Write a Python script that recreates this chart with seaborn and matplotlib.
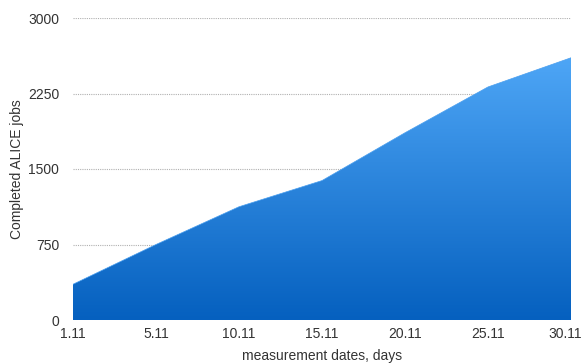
import numpy as np
import matplotlib
matplotlib.use("Agg")
import matplotlib.pyplot as plt
import matplotlib.transforms as mtransforms
import seaborn as sns
import pandas as pd
from matplotlib.colors import LinearSegmentedColormap

dates = ["1.11", "5.11", "10.11", "15.11", "20.11", "25.11", "30.11"]
jobs = [355, 750, 1125, 1385, 1860, 2315, 2605]
yticks = [0, 750, 1500, 2250, 3000]

sns.set_style("white")
plt.rcParams['font.family'] = ['Liberation Sans', 'DejaVu Sans']

df = pd.DataFrame({"date": dates, "jobs": jobs})
df["pos"] = np.arange(len(dates))

fig = plt.figure(figsize=(5.85, 3.63), dpi=100)
ax = fig.add_axes([73/585, 1 - 320/363, (571 - 73)/585, (320 - 18)/363])

sns.lineplot(data=df, x="pos", y="jobs", ax=ax, color="#4a9fef", linewidth=0.5, zorder=3)

poly = ax.fill_between(df["pos"], 0, df["jobs"], color="none", zorder=2)
cmap = LinearSegmentedColormap.from_list("g", ["#0560bf", "#4ea6f6"])
grad = np.linspace(0, 1, 256).reshape(-1, 1)
im = ax.imshow(grad, cmap=cmap, origin="lower", aspect="auto",
               extent=[0, len(dates) - 1, 0, max(jobs)], zorder=2)
path = poly.get_paths()[0]
im.set_clip_path(path, transform=ax.transData)

for t in yticks[1:]:
    ax.axhline(t, color="#b0b0b0", linestyle=(0, (1, 1)), linewidth=0.8, zorder=1)

ax.set_xlim(0, len(dates) - 1)
ax.set_ylim(0, 3000)
ax.set_xticks(df["pos"])
ax.set_xticklabels(dates)
ax.set_yticks(yticks)
ax.set_yticklabels([str(t) for t in yticks])
ax.tick_params(axis="both", length=0, labelsize=10, colors="#333333")
ax.tick_params(axis="y", pad=10)
ax.tick_params(axis="x", pad=5)
for s in ax.spines.values():
    s.set_visible(False)

last = ax.get_xticklabels()[-1]
last.set_transform(last.get_transform() + mtransforms.ScaledTranslation(-6/100, 0, fig.dpi_scale_trans))

ax.set_xlabel("measurement dates, days", fontsize=10, color="#333333", labelpad=6)
ax.set_ylabel("Completed ALICE jobs", fontsize=10, color="#333333", labelpad=3)

fig.savefig("out.png", dpi=100)
